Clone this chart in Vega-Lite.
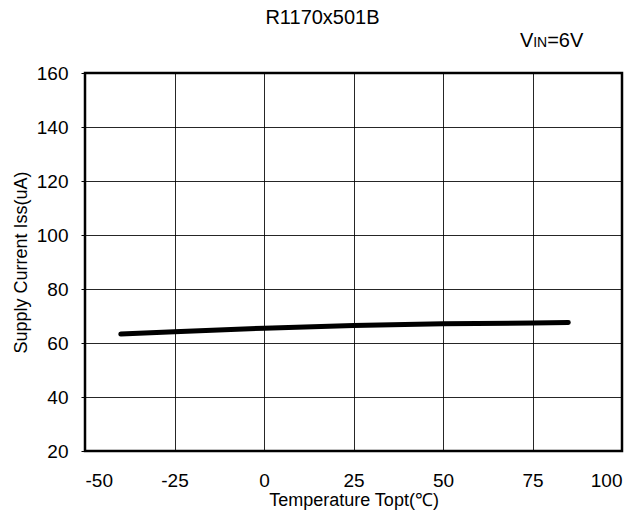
{
  "$schema": "https://vega.github.io/schema/vega-lite/v6.json",
  "width": 537,
  "height": 378,
  "autosize": {"type": "none"},
  "padding": {"left": 85, "top": 73, "right": 22, "bottom": 68},
  "background": "white",
  "title": {"text": "R1170x501B", "font": "Liberation Sans", "fontSize": 20, "fontWeight": "normal", "color": "black", "offset": 3, "frame": "group", "anchor": "middle", "dx": -31},
  "config": {
    "view": {"stroke": "black", "strokeWidth": 2.5},
    "axis": {"labelFont": "Liberation Sans", "titleFont": "Liberation Sans", "labelFontSize": 19, "titleFontSize": 18, "titleFontWeight": "normal", "labelColor": "black", "titleColor": "black", "gridColor": "black", "gridOpacity": 0.85, "gridWidth": 1, "domain": false, "tickColor": "black"}
  },
  "datasets": {
    "curve": [
      {"t": -40, "i": 63.3},
      {"t": -25, "i": 64.2},
      {"t": 0, "i": 65.5},
      {"t": 25, "i": 66.5},
      {"t": 50, "i": 67.1},
      {"t": 75, "i": 67.4},
      {"t": 85, "i": 67.6}
    ]
  },
  "layer": [
    {
      "data": {"name": "curve"},
      "mark": {"type": "line", "color": "black", "strokeWidth": 5, "strokeCap": "round"},
      "encoding": {
        "x": {"field": "t", "type": "quantitative", "scale": {"domain": [-50, 100], "nice": false}, "axis": {"values": [-50, -25, 0, 25, 50, 75, 100], "labelExpr": "'' + datum.value", "title": "Temperature Topt(℃)", "tickSize": 0, "labelPadding": 20, "titlePadding": 1}},
        "y": {"field": "i", "type": "quantitative", "scale": {"domain": [20, 160], "nice": false}, "axis": {"values": [20, 40, 60, 80, 100, 120, 140, 160], "title": "Supply Current Iss(uA)", "tickSize": 4, "labelPadding": 13, "titlePadding": 6}}
      }
    },
    {
      "data": {"values": [{"t": 71.5, "i": 169.7, "label": "V"}]},
      "mark": {"type": "text", "font": "Liberation Sans", "fontSize": 20, "color": "black", "align": "left", "baseline": "alphabetic"},
      "encoding": {"x": {"field": "t", "type": "quantitative"}, "y": {"field": "i", "type": "quantitative"}, "text": {"field": "label"}}
    },
    {
      "data": {"values": [{"t": 75.2, "i": 169.7, "label": "IN"}]},
      "mark": {"type": "text", "font": "Liberation Sans", "fontSize": 14, "color": "black", "align": "left", "baseline": "alphabetic"},
      "encoding": {"x": {"field": "t", "type": "quantitative"}, "y": {"field": "i", "type": "quantitative"}, "text": {"field": "label"}}
    },
    {
      "data": {"values": [{"t": 79.1, "i": 169.7, "label": "=6V"}]},
      "mark": {"type": "text", "font": "Liberation Sans", "fontSize": 20, "color": "black", "align": "left", "baseline": "alphabetic"},
      "encoding": {"x": {"field": "t", "type": "quantitative"}, "y": {"field": "i", "type": "quantitative"}, "text": {"field": "label"}}
    }
  ]
}
